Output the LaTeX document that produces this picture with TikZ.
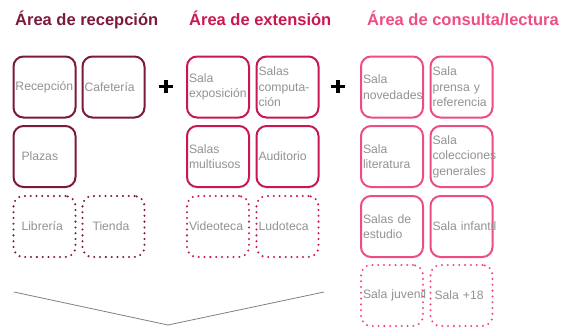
\documentclass[tikz,border=0pt]{standalone}
\usepackage{fontspec}
\setmainfont{Liberation Sans}
\usepackage{xcolor}
\definecolor{recep}{HTML}{7A1A3E}
\definecolor{exten}{HTML}{C8184F}
\definecolor{consul}{HTML}{EE4D80}
\definecolor{salatxt}{HTML}{929292}
\usetikzlibrary{calc}
\newcommand{\salafont}{\fontsize{12.2}{15.5}\selectfont\hyphenpenalty=10000\relax\exhyphenpenalty=10000\relax}

\begin{document}
\begin{tikzpicture}[x=1pt,y=-1pt,
    titulo/.style={anchor=base west,font=\fontsize{16.5}{19}\selectfont\bfseries,inner sep=0pt},
    sala/.style={draw=#1,line width=2pt,rounded corners=10pt,minimum width=62pt,minimum height=61pt,
      text width=58pt,inner sep=2pt,align=left,text=salatxt,font=\salafont},
    futura/.style={sala=#1,line width=2.3pt,dash pattern=on 0pt off 5.8pt,line cap=round},
    mas/.style={line width=3.6pt,black}]
  \useasboundingbox (0,0) rectangle (581,327);

  % titulos
  \node[titulo,recep]  (trecep)  at (15,25)  {Área de recepción};
  \node[titulo,exten]  (texten)  at (189,25) {Área de extensión};
  \node[titulo,consul] (tconsul) at (367,25) {Área de consulta/lectura};

  % area de recepcion
  \node[sala=recep]   (recepcion) at (44.5,87)    {Recepción};
  \node[sala=recep]   (cafeteria) at (113.5,87)   {Cafetería};
  \node[sala=recep]   (plazas)    at (44.5,156.5) {\hspace*{6pt}Plazas};
  \node[futura=recep] (libreria)  at (44.5,226.5) {\hspace*{6pt}Librería};
  \node[futura=recep] (tienda)    at (113.5,226.5){\hspace*{8pt}Tienda};

  % area de extension
  \node[sala=exten]   (expo)      at (218,87)     {Sala\\exposición};
  \node[sala=exten]   (compu)     at (287.5,87)   {Salas\\computa-\\ción};
  \node[sala=exten]   (multiusos) at (218,156.5)  {Salas\\multiusos};
  \node[sala=exten]   (auditorio) at (287.5,156.5){Auditorio};
  \node[futura=exten] (videoteca) at (218,226.5)  {Videoteca};
  \node[futura=exten] (ludoteca)  at (287.5,226.5){Ludoteca};

  % area de consulta/lectura
  \node[sala=consul]   (novedades)   at (392,87)      {Sala\\novedades};
  \node[sala=consul]   (prensa)      at (461.5,87)    {Sala\\prensa y\\referencia};
  \node[sala=consul]   (literatura)  at (392,156.5)   {Sala\\literatura};
  \node[sala=consul]   (colecciones) at (461.5,156.5) {Sala\\colecciones\\generales};
  \node[sala=consul]   (estudio)     at (392,226.5)   {Salas de\\estudio};
  \node[sala=consul]   (infantil)    at (461.5,226.5) {\mbox{Sala infantil}\\[4pt]};
  \node[futura=consul] (juvenil)     at (392,295.5)   {\mbox{Sala juvenil}\\[4pt]};
  \node[futura=consul] (mas18)       at (461.5,295.5) {\hspace*{2pt}Sala +18};

  % signos +
  \draw[mas] (159,86.5) -- (172.5,86.5) (165.75,80) -- (165.75,93);
  \draw[mas] (331,86.5) -- (344.5,86.5) (337.75,80) -- (337.75,93);

  % llave inferior
  \coordinate (li) at (14,292);
  \coordinate (lc) at (168,325);
  \coordinate (ld) at (324,292);
  \draw[gray,line width=0.8pt] (li) -- (lc) -- (ld);
\end{tikzpicture}
\end{document}
